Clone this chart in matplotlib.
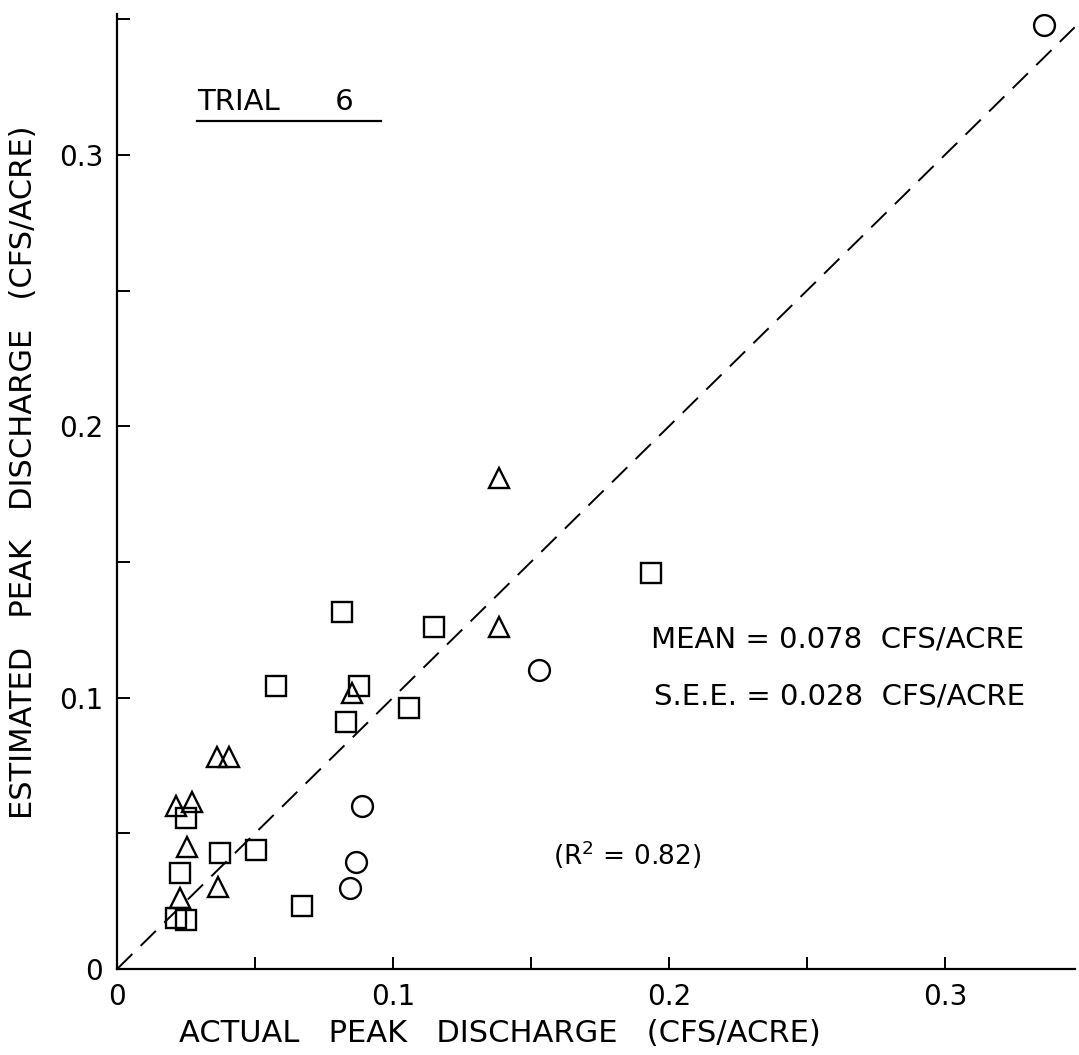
import numpy as np, matplotlib; matplotlib.use("Agg")
import matplotlib.pyplot as plt
from matplotlib.ticker import MultipleLocator

plt.rcParams['font.family'] = ['DejaVu Sans']

# actual vs estimated peak discharge (cfs/acre)
circ_x = [0.336, 0.153, 0.0888, 0.0867, 0.0843]
circ_y = [0.348, 0.110, 0.060, 0.0395, 0.030]
tri_x = [0.1384, 0.1384, 0.085, 0.0363, 0.0406, 0.0213, 0.0273, 0.0255, 0.0367, 0.0228]
tri_y = [0.181, 0.126, 0.1018, 0.078, 0.078, 0.060, 0.0617, 0.045, 0.0302, 0.026]
sq_x = [0.1935, 0.1149, 0.1058, 0.0816, 0.0575, 0.0877, 0.083, 0.0249, 0.0372, 0.0505,
        0.0228, 0.0213, 0.0251, 0.067]
sq_y = [0.146, 0.126, 0.0963, 0.1317, 0.1044, 0.1044, 0.0911, 0.0557, 0.0428, 0.0440,
        0.0354, 0.0188, 0.0181, 0.0232]
xmax, ymax = 0.347, 0.352

fig = plt.figure(figsize=(10.79, 10.55), dpi=100)
ax = fig.add_axes([0.1085, 0.0815, 0.8875, 0.9055])
ax.plot([0, xmax], [0, xmax], c="k", lw=1.4, ls=(0, (11, 6)), zorder=1)
mk = dict(ls="none", mfc="none", mec="k", mew=1.7, ms=15, zorder=3)
ax.plot(sq_x, sq_y, marker="s", **mk)
ax.plot(tri_x, tri_y, marker="^", **mk)
ax.plot(circ_x, circ_y, marker="o", **mk)

ax.set_xlim(0, xmax); ax.set_ylim(0, ymax)
for s in ["top", "right"]: ax.spines[s].set_visible(False)
for s in ["left", "bottom"]: ax.spines[s].set_linewidth(1.6)
for a in (ax.xaxis, ax.yaxis):
    a.set_major_locator(MultipleLocator(0.1)); a.set_minor_locator(MultipleLocator(0.05))
ax.tick_params(which="both", direction="in", length=9, width=1.4, labelsize=20, pad=10)
ax.set_xticks([0, 0.1, 0.2, 0.3], ["0", "0.1", "0.2", "0.3"])
ax.set_yticks([0, 0.1, 0.2, 0.3], ["0", "0.1", "0.2", "0.3"])
ax.set_xlabel("ACTUAL   PEAK   DISCHARGE   (CFS/ACRE)", fontsize=22)
ax.set_ylabel("ESTIMATED   PEAK   DISCHARGE   (CFS/ACRE)", fontsize=22)
ax.xaxis.set_label_coords(0.4, -0.052)
ax.yaxis.set_label_coords(-0.083, 0.52)

ax.text(0.029, 0.3196, "TRIAL      6", fontsize=21, va="center")
ax.plot([0.029, 0.0955], [0.3125, 0.3125], c="k", lw=1.6)
ax.text(0.1935, 0.1214, "MEAN = 0.078  CFS/ACRE", fontsize=21, va="center")
ax.text(0.1946, 0.1004, "S.E.E. = 0.028  CFS/ACRE", fontsize=21, va="center")
ax.text(0.158, 0.042, "(R$^2$ = 0.82)", fontsize=19, va="center")

fig.savefig("out.png", dpi=100)
